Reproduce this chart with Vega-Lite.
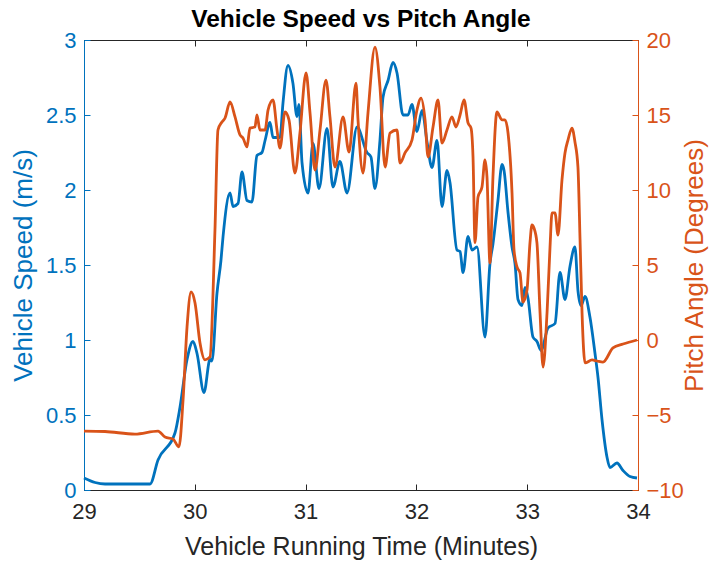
{
  "$schema": "https://vega.github.io/schema/vega-lite/v6.json",
  "width": 554,
  "height": 450,
  "autosize": {"type": "none"},
  "padding": {"left": 84, "top": 40, "right": 75, "bottom": 72},
  "background": "white",
  "config": {
    "font": "Liberation Sans",
    "view": {"stroke": "#262626", "strokeWidth": 1},
    "axis": {"grid": false, "labelFont": "Liberation Sans", "titleFont": "Liberation Sans", "titleFontWeight": "normal", "labelFlush": false, "labelOverlap": false}
  },
  "title": {
    "text": "Vehicle Speed vs Pitch Angle",
    "font": "Liberation Sans",
    "fontSize": 24.5,
    "fontWeight": "bold",
    "color": "#000000",
    "anchor": "middle",
    "frame": "group",
    "baseline": "alphabetic",
    "offset": 12,
    "dy": 34
  },
  "datasets": {
    "speed": [
      {"t": 29.000, "v": 0.08}, {"t": 29.100, "v": 0.05}, {"t": 29.190, "v": 0.04}, {"t": 29.400, "v": 0.04},
      {"t": 29.596, "v": 0.04}, {"t": 29.668, "v": 0.20}, {"t": 29.821, "v": 0.38}, {"t": 29.866, "v": 0.55},
      {"t": 29.930, "v": 0.87}, {"t": 29.984, "v": 0.99}, {"t": 30.020, "v": 0.91}, {"t": 30.083, "v": 0.65},
      {"t": 30.137, "v": 0.87}, {"t": 30.155, "v": 0.86}, {"t": 30.200, "v": 1.31}, {"t": 30.236, "v": 1.53},
      {"t": 30.255, "v": 1.69}, {"t": 30.318, "v": 1.98}, {"t": 30.345, "v": 1.89}, {"t": 30.390, "v": 1.91},
      {"t": 30.426, "v": 2.12}, {"t": 30.471, "v": 1.93}, {"t": 30.516, "v": 1.92}, {"t": 30.561, "v": 2.23},
      {"t": 30.606, "v": 2.25}, {"t": 30.634, "v": 2.33}, {"t": 30.679, "v": 2.45}, {"t": 30.706, "v": 2.35},
      {"t": 30.769, "v": 2.35}, {"t": 30.796, "v": 2.58}, {"t": 30.841, "v": 2.83}, {"t": 30.886, "v": 2.71},
      {"t": 30.922, "v": 2.49}, {"t": 30.940, "v": 2.57}, {"t": 30.968, "v": 2.18}, {"t": 31.022, "v": 1.98},
      {"t": 31.067, "v": 2.31}, {"t": 31.121, "v": 2.01}, {"t": 31.193, "v": 2.41}, {"t": 31.247, "v": 2.02},
      {"t": 31.310, "v": 2.19}, {"t": 31.374, "v": 1.98}, {"t": 31.464, "v": 2.42}, {"t": 31.554, "v": 2.25},
      {"t": 31.590, "v": 2.22}, {"t": 31.626, "v": 2.01}, {"t": 31.671, "v": 2.33}, {"t": 31.699, "v": 2.62},
      {"t": 31.744, "v": 2.73}, {"t": 31.789, "v": 2.85}, {"t": 31.825, "v": 2.78}, {"t": 31.879, "v": 2.50},
      {"t": 31.924, "v": 2.50}, {"t": 31.960, "v": 2.57}, {"t": 32.005, "v": 2.39}, {"t": 32.051, "v": 2.53},
      {"t": 32.096, "v": 2.32}, {"t": 32.141, "v": 2.15}, {"t": 32.186, "v": 2.33}, {"t": 32.231, "v": 1.89},
      {"t": 32.276, "v": 2.13}, {"t": 32.303, "v": 2.05}, {"t": 32.366, "v": 1.60}, {"t": 32.394, "v": 1.59},
      {"t": 32.421, "v": 1.45}, {"t": 32.466, "v": 1.69}, {"t": 32.502, "v": 1.60}, {"t": 32.547, "v": 1.62},
      {"t": 32.619, "v": 1.02}, {"t": 32.664, "v": 1.51}, {"t": 32.691, "v": 1.64}, {"t": 32.736, "v": 1.93},
      {"t": 32.773, "v": 2.17}, {"t": 32.791, "v": 2.13}, {"t": 32.827, "v": 1.85}, {"t": 32.863, "v": 1.62},
      {"t": 32.890, "v": 1.51}, {"t": 32.917, "v": 1.27}, {"t": 32.953, "v": 1.23}, {"t": 32.980, "v": 1.35},
      {"t": 33.007, "v": 1.28}, {"t": 33.052, "v": 1.02}, {"t": 33.088, "v": 0.99}, {"t": 33.125, "v": 0.93},
      {"t": 33.188, "v": 1.08}, {"t": 33.251, "v": 1.11}, {"t": 33.296, "v": 1.45}, {"t": 33.341, "v": 1.27},
      {"t": 33.386, "v": 1.49}, {"t": 33.431, "v": 1.62}, {"t": 33.458, "v": 1.33}, {"t": 33.486, "v": 1.23},
      {"t": 33.522, "v": 1.29}, {"t": 33.567, "v": 1.15}, {"t": 33.612, "v": 0.91}, {"t": 33.639, "v": 0.75},
      {"t": 33.675, "v": 0.47}, {"t": 33.720, "v": 0.22}, {"t": 33.747, "v": 0.15}, {"t": 33.810, "v": 0.18},
      {"t": 33.865, "v": 0.13}, {"t": 33.928, "v": 0.09}, {"t": 33.991, "v": 0.08}
    ],
    "pitch": [
      {"t": 29.000, "a": -6.07}, {"t": 29.190, "a": -6.10}, {"t": 29.460, "a": -6.27}, {"t": 29.668, "a": -6.07},
      {"t": 29.731, "a": -6.47}, {"t": 29.803, "a": -6.60}, {"t": 29.857, "a": -7.13}, {"t": 29.894, "a": -4.0},
      {"t": 29.930, "a": 0.87}, {"t": 29.966, "a": 3.2}, {"t": 30.002, "a": 2.47}, {"t": 30.047, "a": -0.2},
      {"t": 30.092, "a": -1.33}, {"t": 30.137, "a": -1.13}, {"t": 30.182, "a": 7.33}, {"t": 30.209, "a": 14.0},
      {"t": 30.245, "a": 14.53}, {"t": 30.273, "a": 14.8}, {"t": 30.318, "a": 15.87}, {"t": 30.363, "a": 14.87},
      {"t": 30.408, "a": 13.67}, {"t": 30.435, "a": 13.47}, {"t": 30.471, "a": 12.87}, {"t": 30.498, "a": 14.13},
      {"t": 30.543, "a": 14.2}, {"t": 30.561, "a": 15.0}, {"t": 30.588, "a": 14.0}, {"t": 30.634, "a": 14.0},
      {"t": 30.661, "a": 15.33}, {"t": 30.706, "a": 16.0}, {"t": 30.742, "a": 14.0}, {"t": 30.769, "a": 12.8},
      {"t": 30.814, "a": 15.2}, {"t": 30.850, "a": 14.67}, {"t": 30.904, "a": 11.13}, {"t": 30.949, "a": 13.8},
      {"t": 31.004, "a": 17.8}, {"t": 31.040, "a": 15.13}, {"t": 31.085, "a": 11.33}, {"t": 31.130, "a": 14.0},
      {"t": 31.184, "a": 17.33}, {"t": 31.220, "a": 14.87}, {"t": 31.265, "a": 11.53}, {"t": 31.338, "a": 14.87},
      {"t": 31.392, "a": 12.53}, {"t": 31.455, "a": 17.13}, {"t": 31.473, "a": 14.67}, {"t": 31.518, "a": 11.13},
      {"t": 31.563, "a": 15.13}, {"t": 31.626, "a": 19.53}, {"t": 31.671, "a": 16.87}, {"t": 31.717, "a": 11.53},
      {"t": 31.762, "a": 13.8}, {"t": 31.825, "a": 14.0}, {"t": 31.852, "a": 11.8}, {"t": 31.897, "a": 12.47},
      {"t": 31.960, "a": 13.33}, {"t": 32.005, "a": 15.33}, {"t": 32.042, "a": 16.13}, {"t": 32.078, "a": 14.67},
      {"t": 32.105, "a": 12.2}, {"t": 32.150, "a": 14.2}, {"t": 32.195, "a": 16.0}, {"t": 32.231, "a": 13.13},
      {"t": 32.276, "a": 14.0}, {"t": 32.321, "a": 14.87}, {"t": 32.357, "a": 14.2}, {"t": 32.394, "a": 15.0},
      {"t": 32.430, "a": 16.0}, {"t": 32.466, "a": 14.47}, {"t": 32.493, "a": 14.13}, {"t": 32.511, "a": 12.2},
      {"t": 32.529, "a": 6.5}, {"t": 32.556, "a": 9.53}, {"t": 32.592, "a": 10.2}, {"t": 32.619, "a": 12.0},
      {"t": 32.637, "a": 10.87}, {"t": 32.664, "a": 5.13}, {"t": 32.691, "a": 10.87}, {"t": 32.727, "a": 15.2},
      {"t": 32.773, "a": 14.67}, {"t": 32.800, "a": 14.67}, {"t": 32.827, "a": 13.8}, {"t": 32.863, "a": 9.8},
      {"t": 32.881, "a": 6.0}, {"t": 32.908, "a": 4.87}, {"t": 32.935, "a": 4.47}, {"t": 32.962, "a": 2.53},
      {"t": 32.998, "a": 3.33}, {"t": 33.025, "a": 6.47}, {"t": 33.043, "a": 7.67}, {"t": 33.061, "a": 7.47},
      {"t": 33.088, "a": 6.47}, {"t": 33.116, "a": 1.8}, {"t": 33.143, "a": -1.8}, {"t": 33.179, "a": 1.8},
      {"t": 33.206, "a": 6.2}, {"t": 33.224, "a": 8.47}, {"t": 33.251, "a": 8.47}, {"t": 33.278, "a": 7.0},
      {"t": 33.314, "a": 10.67}, {"t": 33.341, "a": 12.47}, {"t": 33.368, "a": 13.33}, {"t": 33.404, "a": 14.13},
      {"t": 33.431, "a": 13.2}, {"t": 33.458, "a": 11.53}, {"t": 33.477, "a": 6.67}, {"t": 33.495, "a": 1.8},
      {"t": 33.522, "a": -1.53}, {"t": 33.585, "a": -1.33}, {"t": 33.630, "a": -1.4}, {"t": 33.684, "a": -1.47},
      {"t": 33.774, "a": -0.53}, {"t": 33.865, "a": -0.27}, {"t": 33.991, "a": 0.0}
    ]
  },
  "layer": [
    {
      "data": {"name": "speed"},
      "mark": {"type": "line", "color": "#0072BD", "strokeWidth": 2.8, "interpolate": "monotone"},
      "encoding": {
        "x": {
          "field": "t", "type": "quantitative",
          "scale": {"domain": [29, 34], "nice": false, "zero": false},
          "axis": {
            "orient": "bottom", "values": [29, 30, 31, 32, 33, 34], "format": "d",
            "title": "Vehicle Running Time (Minutes)",
            "labelFontSize": 22, "labelColor": "#262626", "titleFontSize": 25, "titleColor": "#262626",
            "domainColor": "#262626", "tickColor": "#262626", "tickSize": -6, "labelPadding": 17, "titlePadding": 12
          }
        },
        "y": {
          "field": "v", "type": "quantitative",
          "scale": {"domain": [0, 3], "nice": false},
          "axis": {
            "orient": "left", "values": [0, 0.5, 1, 1.5, 2, 2.5, 3], "format": "~g",
            "title": "Vehicle Speed (m/s)",
            "labelFontSize": 22, "labelColor": "#0072BD", "titleFontSize": 26, "titleColor": "#0072BD",
            "domainColor": "#0072BD", "tickColor": "#0072BD", "tickSize": -6, "labelPadding": 14, "titlePadding": 9
          }
        }
      }
    },
    {
      "data": {"name": "pitch"},
      "mark": {"type": "line", "color": "#D95319", "strokeWidth": 2.8, "interpolate": "monotone"},
      "encoding": {
        "x": {
          "field": "t", "type": "quantitative",
          "scale": {"domain": [29, 34], "nice": false, "zero": false},
          "axis": {
            "orient": "top", "values": [29, 30, 31, 32, 33, 34], "labels": false, "title": null,
            "domainColor": "#262626", "tickColor": "#262626", "tickSize": -6, "maxExtent": 0, "minExtent": 0
          }
        },
        "y": {
          "field": "a", "type": "quantitative",
          "scale": {"domain": [-10, 20], "nice": false, "zero": false},
          "axis": {
            "orient": "right", "values": [-10, -5, 0, 5, 10, 15, 20],
            "title": "Pitch Angle (Degrees)", "titleAngle": 270,
            "labelFontSize": 22, "labelColor": "#D95319", "titleFontSize": 26, "titleColor": "#D95319",
            "domainColor": "#D95319", "tickColor": "#D95319", "tickSize": -6, "labelPadding": 14, "titlePadding": 24
          }
        }
      }
    }
  ],
  "resolve": {"scale": {"y": "independent"}, "axis": {"x": "independent"}}
}
